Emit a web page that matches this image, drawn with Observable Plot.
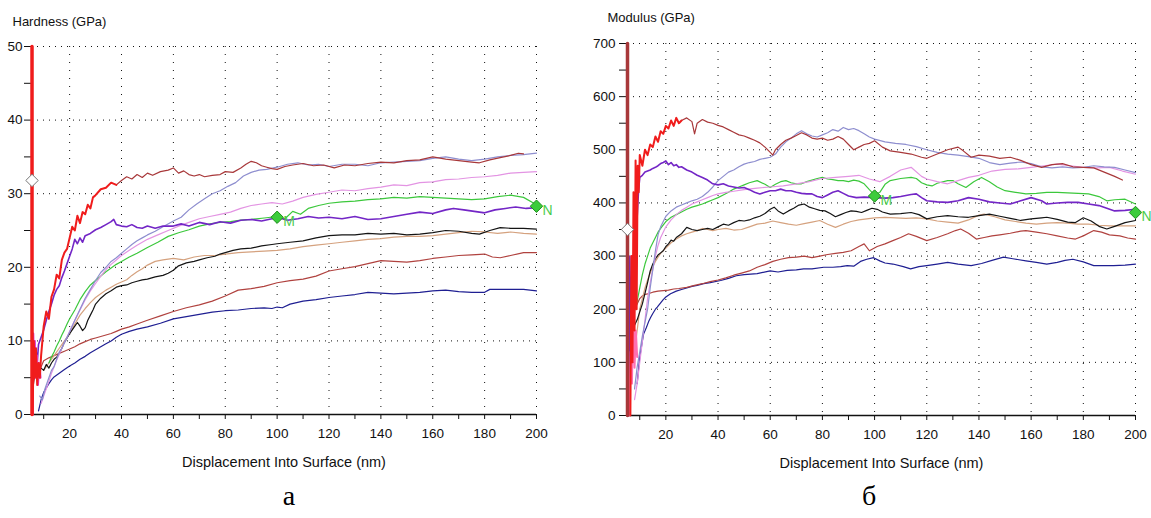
<!DOCTYPE html>
<html>
<head>
<meta charset="utf-8">
<script src="https://cdn.jsdelivr.net/npm/d3@7"></script>
<script src="https://cdn.jsdelivr.net/npm/@observablehq/plot@0.6"></script>
<style>
  html, body { margin: 0; padding: 0; background: #fff; }
  #wrap { position: relative; width: 1151px; height: 518px; background: #fff; overflow: hidden; }
  #left { position: absolute; left: 0; top: 0; }
  #right { position: absolute; left: 575px; top: 0; }
  #letters { position: absolute; left: 0; top: 0; pointer-events: none; }
</style>
</head>
<body>
<div id="wrap">
  <div id="left"></div>
  <div id="right"></div>
  <svg id="letters" width="1151" height="518">
    <text x="289" y="505" text-anchor="middle" font-family="Liberation Serif, Times New Roman, serif" font-size="28">а</text>
    <text x="869" y="505" text-anchor="middle" font-family="Liberation Serif, Times New Roman, serif" font-size="28">б</text>
  </svg>
</div>
<script>
// ---------------- shared axis data ----------------
const X_DOMAIN = [5.3, 200];
const X_TICKS = [10,20,30,40,50,60,70,80,90,100,110,120,130,140,150,160,170,180,190,200];
const X_GRID = [20,40,60,80,100,120,140,160,180,200];
const X_TITLE = "Displacement Into Surface (nm)";

// ---------------- panel a: Hardness ----------------
const H_DOMAIN = [0, 50];
const H_TICKS = [0,5,10,15,20,25,30,35,40,45,50];
const H_GRID = [10,20,30,40,50];
const H_TITLE = "Hardness (GPa)";

const H_spike = [[5.5,0],[5.5,50]];
const H_magenta = [[5.8,0],[6,11],[6.3,6],[6.6,10],[7,5],[7.4,8],[7.8,4],[8.3,7],[8.8,5]];
const H_redEarly = [[5.7,0],[6.2,10],[6.6,5],[7,9],[7.5,4],[8,7],[8.5,5],[9,8],[10,12],[11,14],[12,13],[13,16],[14,17],[15,19],[16,18.5],[17,21],[18,22],[19,22.5],[20,24],[21,25.5],[22,25],[23,27],[24,26],[25,27.5],[26,27.2],[27,28.5],[28,28],[29,29.5],[30,29.8],[32,30.6],[34,30.8],[36,31.5],[38,31.2]];
const H_redLate = [[38,31.2],[40,31.8],[42,32.3],[44,32],[46,32.6],[48,32.2],[50,32.8],[52,32.5],[55,33],[58,33.2],[60,33.5],[62,32.8],[64,33.1],[66,32.6],[68,32.4],[70,32.6],[72,32.3],[75,32.5],[78,32.6],[80,33],[83,32.9],[86,33.5],[88,34],[90,34.4],[92,34.2],[94,33.8],[96,33.6],[98,33.4],[100,33.3],[103,33.7],[106,33.9],[110,34.1],[114,33.8],[118,33.9],[122,33.5],[126,33.9],[130,33.8],[135,34.1],[140,34.3],[145,34.2],[150,34.5],[155,34.6],[160,35],[165,34.7],[170,34.5],[175,34.3],[178,34.2],[182,34.6],[186,34.9],[190,35.2],[193,35.5],[195,35.4]];
const H_slate = [[8.5,2.5],[9.5,2],[10.5,3.5],[12,5],[13,6],[14,6.5],[15,7.5],[16,8.5],[17,9],[18,9.8],[19,10.5],[20,11.2],[22,12.8],[24,14.3],[26,15.8],[28,17],[30,18.2],[32,19.3],[34,20],[36,20.8],[38,21.3],[40,21.9],[42,22.5],[44,23.1],[46,23.6],[48,24],[50,24.4],[53,24.9],[56,25.5],[60,26.3],[63,26.8],[66,27.8],[69,28.6],[72,29.3],[75,30],[78,30.4],[81,31],[84,31.5],[87,32.4],[90,32.9],[93,33.2],[96,33.3],[100,33.6],[104,34],[108,34.2],[112,33.9],[116,34],[120,33.7],[125,34],[130,34],[135,33.8],[140,34.2],[145,34.3],[150,34.4],[155,34.5],[160,34.8],[165,35],[170,34.7],[175,34.5],[180,34.7],[185,35],[190,35.2],[195,35.3],[200,35.5]];
const H_violet = [[9,1.5],[10,2.5],[11,3.5],[12,4.5],[13,5.6],[14,6.5],[15,7.4],[16,8.2],[17,9],[18,9.8],[19,10.5],[20,11.3],[22,12.8],[24,14.2],[26,15.6],[28,16.8],[30,17.8],[32,18.8],[34,19.7],[36,20.4],[38,21],[40,21.6],[43,22.3],[46,23],[50,23.8],[54,24.4],[58,25],[62,25.6],[66,26.1],[70,26.6],[74,26.9],[78,27.2],[82,27.5],[86,28],[90,28.4],[94,28.6],[98,28.8],[102,28.6],[106,29],[110,29.5],[115,29.9],[120,30.2],[125,30.5],[130,30.4],[135,30.7],[140,30.9],[145,31.2],[150,31.1],[155,31.5],[160,31.6],[165,31.9],[170,32],[175,32.2],[180,32.3],[185,32.5],[190,32.8],[195,32.9],[200,33]];
const H_green = [[12,7],[13,7.8],[14,8.5],[15,9.3],[16,10],[17,10.8],[18,11.5],[19,12.3],[20,13],[22,14.2],[24,15.6],[26,16.7],[28,17.6],[30,18.2],[32,18.8],[34,19.4],[36,19.9],[38,20.4],[40,20.8],[43,21.4],[46,21.9],[50,22.7],[54,23.4],[58,24.2],[62,24.7],[66,25.1],[70,25.6],[74,25.9],[78,26.1],[82,26.2],[86,26.4],[90,26.5],[95,26.7],[100,26.9],[103,26.6],[106,27.6],[109,27.2],[112,28],[116,28.4],[120,28.7],[125,28.9],[130,29],[135,29.2],[140,29.3],[145,29.5],[150,29.4],[155,29.6],[160,29.5],[165,29.4],[170,29.3],[175,29.2],[180,29.3],[185,29.6],[190,29.8],[195,29.5],[200,28.5]];
const H_purple = [[6,10],[6.5,6],[7,9],[7.5,7],[8,9.5],[9,10.5],[10,11.5],[11,12.8],[12,14],[13,15],[14,16.2],[15,17],[16,17.5],[17,18.6],[18,19.5],[19,20.5],[20,21.5],[21,22.5],[22,23.8],[23,23.2],[24,24],[25,23.4],[26,24.3],[28,24.6],[30,25.1],[32,25.4],[34,25.8],[36,26.2],[37,26.5],[38,25.8],[40,25.6],[42,25.5],[44,25.8],[46,25.4],[48,25.3],[50,25.6],[53,25.3],[56,25.6],[60,25.6],[63,25.9],[66,25.6],[70,26.1],[74,25.8],[78,26.2],[82,26],[86,26.4],[90,26.5],[94,26.3],[98,26.6],[100,26.8],[104,26.4],[108,26.6],[112,26.9],[116,26.7],[120,26.8],[125,26.6],[130,26.9],[135,26.5],[140,26.6],[145,26.9],[150,27.2],[155,27.5],[160,27.3],[165,27.8],[168,28],[172,27.8],[176,27.6],[180,27.4],[184,27.8],[188,28],[192,28.2],[196,28],[200,28.1]];
const H_black = [[6,5.5],[7,6.5],[8,5.8],[9,6.3],[10,6],[11,6.8],[12,6.3],[13,7],[14,7.5],[15,7.8],[16,8.3],[17,9],[18,9.8],[19,10.4],[20,11],[21,11.5],[22,12],[23,12.5],[24,12],[25,11.4],[26,11.8],[27,12.8],[28,13.5],[29,14.2],[30,15],[32,15.8],[34,16.4],[36,16.8],[38,17.3],[40,17.5],[42,17.6],[44,17.9],[46,18.1],[48,18.3],[50,18.4],[53,18.7],[56,18.9],[58,19.2],[60,19.6],[62,20.2],[65,20.6],[68,20.8],[70,21],[73,21.3],[76,21.5],[78,21.8],[80,22],[83,22.3],[86,22.5],[90,22.6],[94,22.9],[98,23.1],[100,23.2],[105,23.4],[110,23.6],[115,24],[120,24.3],[125,24.4],[130,24.4],[135,24.6],[140,24.5],[145,24.6],[150,24.4],[155,24.5],[160,24.7],[165,25],[170,24.9],[175,24.6],[178,24.5],[182,25],[186,25.4],[190,25.3],[195,25.3],[200,25.2]];
const H_tan = [[10,6],[12,7],[14,8],[16,9],[18,10],[20,11],[22,12.3],[24,13.5],[26,14.4],[28,15.2],[30,15.9],[32,16.4],[34,16.9],[36,17.3],[38,17.7],[40,18],[42,18.3],[44,18.9],[46,19.4],[48,19.8],[50,20.3],[53,20.8],[56,21],[60,21.2],[64,21],[68,21.4],[72,21.6],[76,21.6],[80,21.8],[85,22],[90,22.1],[95,22.2],[100,22.3],[105,22.5],[110,22.8],[115,23],[120,23.2],[125,23.4],[130,23.6],[135,23.8],[140,23.9],[145,24.1],[150,24.2],[155,24.2],[160,24.3],[165,24.5],[170,24.7],[175,24.9],[180,24.8],[185,24.6],[190,24.8],[195,24.6],[200,24.5]];
const H_brown = [[6,4],[7,6],[8,5.5],[9,6.5],[10,7.3],[12,7.7],[14,8],[16,8.3],[18,8.6],[20,8.9],[22,9.2],[24,9.6],[26,9.9],[28,10.2],[30,10.4],[32,10.6],[34,10.8],[36,11],[38,11.3],[40,11.6],[43,11.9],[46,12.3],[50,12.8],[55,13.4],[60,14],[65,14.5],[70,14.9],[75,15.4],[80,16.1],[85,16.9],[90,17.1],[95,17.4],[100,17.9],[105,18.2],[110,18.4],[115,18.8],[120,19.5],[125,19.8],[130,20.1],[135,20.5],[140,20.9],[145,20.8],[150,20.7],[155,20.9],[160,21.2],[165,21.4],[170,21.6],[175,21.7],[180,21.8],[183,21.4],[186,21.3],[190,21.6],[195,22],[200,22]];
const H_navy = [[8,0.5],[9,2],[10,3],[11,3.6],[12,4.2],[13,4.7],[14,5.1],[16,5.6],[18,6.1],[20,6.6],[22,7],[24,7.5],[26,7.9],[28,8.4],[30,8.8],[32,9.2],[34,9.6],[36,10],[38,10.5],[40,10.9],[43,11.3],[46,11.6],[50,11.9],[55,12.4],[60,13],[65,13.3],[70,13.6],[75,13.9],[80,14.1],[85,14.2],[90,14.4],[95,14.5],[98,14.4],[100,14.6],[102,14.5],[105,15],[110,15.4],[115,15.6],[120,15.9],[125,16.1],[130,16.3],[135,16.6],[140,16.5],[145,16.4],[150,16.5],[155,16.6],[160,16.8],[165,16.9],[170,16.7],[175,16.6],[180,16.6],[182,17],[186,17],[190,17],[195,17],[200,16.8]];

const H_markers = [{x: 100, y: 26.8, label: "M"}, {x: 200, y: 28.3, label: "N"}];
const H_start = [{x: 5.5, y: 31.8}];

// ---------------- panel б: Modulus ----------------
const M_DOMAIN = [0, 700];
const M_TICKS = [0,50,100,150,200,250,300,350,400,450,500,550,600,650,700];
const M_GRID = [100,200,300,400,500,600,700];
const M_TITLE = "Modulus (GPa)";

const M_spike = [[5.3,0],[5.3,700]];
const M_pink = [[6,0],[6.5,120],[7,60],[7.5,200],[8,90],[8.5,160],[9,110]];
const M_redEarly = [[6.4,0],[6.8,300],[7.2,100],[7.6,420],[8,160],[8.4,480],[8.8,200],[9.2,470],[9.6,420],[10,490],[11,470],[12,500],[13,490],[14,510],[15,505],[16,525],[17,515],[18,535],[19,530],[20,545],[21,540],[22,555],[23,545],[24,560],[25,550],[26,555]];
const M_redLate = [[26,555],[28,560],[30,553],[31,530],[32,550],[34,557],[36,552],[38,550],[40,546],[42,543],[44,538],[46,533],[48,528],[50,526],[52,522],[54,518],[56,513],[58,505],[60,495],[61,490],[62,500],[64,510],[66,518],[68,522],[70,527],[72,532],[74,528],[76,522],[78,520],[80,522],[82,518],[84,520],[86,525],[88,520],[90,510],[92,500],[94,505],[96,510],[98,512],[100,517],[103,505],[106,498],[110,495],[114,492],[118,486],[120,484],[124,492],[128,500],[132,505],[134,498],[137,486],[140,490],[144,488],[148,484],[152,486],[156,480],[160,472],[164,467],[168,472],[172,474],[176,468],[180,467],[184,466],[188,458],[192,450],[195,443]];
const M_slate = [[8,50],[9,91],[10,120],[11,150],[12,175],[13,200],[14,240],[15,275],[16,310],[17,340],[18,355],[20,375],[22,385],[24,392],[26,396],[28,400],[30,404],[32,407],[34,412],[36,420],[38,430],[40,442],[42,450],[44,458],[46,462],[48,468],[50,473],[52,476],[54,478],[56,482],[58,484],[60,486],[62,492],[64,505],[66,515],[68,522],[70,530],[72,536],[74,530],[76,526],[78,524],[80,528],[82,532],[84,538],[86,535],[88,542],[90,538],[92,540],[94,536],[96,530],[98,524],[100,520],[104,515],[108,512],[112,510],[116,506],[120,500],[124,495],[128,492],[132,490],[136,487],[140,484],[144,476],[148,472],[152,475],[156,477],[160,474],[164,468],[168,466],[172,468],[176,466],[180,467],[184,470],[188,468],[192,467],[196,462],[200,457]];
const M_violet = [[8,30],[9,60],[10,100],[11,140],[12,180],[13,220],[14,250],[15,275],[16,300],[17,320],[18,335],[20,355],[22,368],[24,378],[26,386],[28,392],[30,398],[32,402],[34,406],[36,410],[38,414],[40,417],[43,420],[46,422],[50,425],[55,428],[60,430],[65,432],[70,436],[75,440],[80,446],[85,448],[90,450],[94,452],[98,445],[102,440],[106,450],[110,462],[114,467],[118,450],[120,445],[124,440],[128,436],[132,442],[136,448],[140,452],[145,460],[150,463],[155,464],[160,467],[165,470],[170,473],[175,470],[180,467],[185,466],[190,467],[195,460],[200,454]];
const M_green = [[7.5,150],[8,197],[9,215],[10,240],[11,265],[12,285],[13,300],[14,315],[15,325],[16,335],[17,345],[18,352],[20,365],[22,373],[24,378],[26,383],[28,388],[30,392],[32,395],[34,398],[36,402],[38,406],[40,410],[42,415],[44,420],[46,426],[48,430],[50,434],[52,438],[55,442],[58,435],[60,429],[62,435],[64,440],[66,442],[68,438],[70,436],[72,436],[74,440],[76,443],[78,446],[80,448],[82,445],[84,444],[86,442],[88,442],[90,440],[92,443],[94,441],[96,436],[98,425],[100,415],[102,420],[104,435],[106,442],[110,446],[114,448],[116,446],[118,438],[120,434],[122,432],[124,437],[128,442],[130,442],[132,436],[135,429],[138,440],[141,448],[144,440],[147,430],[150,423],[154,420],[158,417],[162,418],[166,420],[170,420],[174,419],[178,418],[182,417],[186,412],[189,404],[192,406],[196,407],[200,398]];
const M_purple = [[5.8,0],[6.2,300],[6.6,150],[7,285],[7.5,250],[8,320],[8.5,300],[9,373],[9.5,420],[10,448],[11,452],[12,458],[13,460],[14,462],[15,465],[16,467],[17,470],[18,474],[19,476],[20,479],[21,472],[22,476],[23,470],[24,472],[25,467],[26,468],[28,462],[30,458],[32,452],[34,448],[36,443],[38,436],[40,434],[42,436],[44,432],[46,430],[48,428],[50,429],[52,425],[54,420],[56,417],[58,420],[60,423],[62,423],[64,426],[66,423],[68,423],[70,420],[72,418],[74,417],[76,417],[78,412],[80,410],[82,415],[84,420],[86,423],[88,418],[90,413],[93,410],[96,411],[100,410],[104,409],[107,410],[110,412],[114,416],[116,417],[118,410],[120,404],[124,402],[128,401],[132,404],[136,410],[140,407],[144,402],[148,400],[152,398],[156,404],[160,410],[164,404],[166,398],[170,400],[174,401],[178,401],[182,398],[186,395],[189,390],[192,385],[196,386],[200,388]];
const M_black = [[6,100],[6.5,160],[7,165],[7.5,158],[8,170],[9,180],[10,195],[11,210],[12,230],[13,250],[14,272],[15,285],[16,295],[17,302],[18,306],[19,310],[20,318],[21,323],[22,330],[23,328],[24,335],[26,342],[28,354],[30,350],[32,348],[34,350],[36,352],[38,350],[40,355],[42,360],[44,358],[46,363],[48,367],[50,366],[52,368],[54,372],[56,375],[58,380],[60,388],[61.5,392],[63,385],[65,379],[67,385],[69,390],[71,396],[73,398],[75,392],[77,389],[79,386],[81,385],[83,380],[85,374],[87,378],[89,382],[91,385],[93,384],[95,382],[97,386],[99,390],[101,388],[103,383],[106,379],[110,380],[114,382],[117,378],[120,370],[124,374],[128,376],[132,374],[136,373],[140,376],[144,379],[148,375],[152,371],[156,367],[160,370],[164,372],[166,373],[170,369],[174,364],[177,363],[180,372],[183,366],[186,356],[189,351],[192,356],[196,363],[200,367]];
const M_tan = [[8,120],[9,160],[10,200],[11,220],[12,240],[13,255],[14,268],[15,280],[16,290],[17,298],[18,305],[20,315],[22,325],[24,332],[26,338],[28,342],[30,345],[32,348],[34,352],[36,350],[38,348],[40,350],[43,352],[46,349],[49,350],[52,355],[55,360],[58,362],[61,366],[64,363],[67,360],[70,358],[73,361],[76,364],[79,367],[82,360],[85,354],[88,360],[91,365],[94,368],[97,370],[100,372],[104,373],[108,372],[112,371],[116,372],[120,370],[124,366],[128,364],[132,362],[136,368],[140,377],[142,379],[146,374],[150,368],[154,365],[158,362],[162,360],[166,362],[170,363],[174,362],[178,360],[182,360],[186,358],[190,357],[195,357],[200,357]];
const M_brown = [[6.5,150],[7,180],[8,200],[9,210],[10,220],[11,225],[12,228],[13,229],[15,232],[17,234],[19,235],[21,236],[23,238],[25,239],[28,241],[31,245],[34,248],[37,252],[40,255],[43,259],[46,264],[49,268],[52,272],[55,279],[58,284],[61,290],[64,294],[67,297],[70,298],[73,300],[76,297],[79,300],[82,303],[85,305],[88,307],[91,310],[94,318],[96,323],[98,310],[101,318],[104,323],[107,329],[110,335],[113,342],[116,337],[120,329],[124,335],[128,342],[131,348],[133,351],[136,343],[139,332],[142,335],[145,338],[148,340],[152,343],[156,347],[158,348],[162,345],[166,342],[170,338],[174,334],[177,332],[180,338],[184,348],[187,345],[190,340],[194,338],[197,334],[200,332]];
const M_navy = [[9,60],[10,110],[11,140],[11.5,154],[12.5,165],[13.5,178],[14.2,185],[15,192],[16,200],[16.7,204],[18,212],[19,218],[20,223],[21.8,229],[24,234],[26,237],[28,240],[30,243],[32,245],[34.5,248],[37,250],[41,254],[44,258],[47,263],[50,265],[55,267],[60,272],[63,270],[66.5,273],[70,274],[72.8,276],[76,276],[80.5,279],[84,279],[87,280],[89.5,282],[92,281],[94.6,290],[97,294],[99.6,297],[102,291],[104,287],[107,285],[111,280],[113.8,276],[117,280],[120,282],[124,285],[128,288],[132,285],[137,282],[141,286],[145,292],[149.4,298],[153,295],[158,291],[162,288],[166,285],[170,288],[173,292],[176,294],[180,289],[184,282],[188,282],[191.6,282],[196,283],[200,285]];

const M_markers = [{x: 100, y: 413, label: "M"}, {x: 200, y: 382, label: "N"}];
const M_start = [{x: 5.3, y: 350}];

// ---------------- styles (kept apart from data) ----------------
const COLORS = {
  navy: "#1f1f92", brown: "#b0423f", tan: "#d5a27f", black: "#141414",
  green: "#3cc83c", violet: "#e394e3", slate: "#8e8ecf", purple: "#7326c6",
  redEarly: "#f01c1c", redLate: "#a8383a", magenta: "#e040d8", pink: "#ff6fb0"
};

function toRows(pts) { return pts.map(([x, y]) => ({x, y})); }

function panel(o) {
  const lines = o.series.map(s => Plot.line(toRows(s.data), {
    x: "x", y: "y", stroke: s.color, strokeWidth: s.width || 1.2,
    strokeLinejoin: "round", strokeLinecap: "round"
  }));
  return Plot.plot({
    width: o.width, height: o.height,
    marginLeft: o.ml, marginRight: o.mr, marginTop: o.mt, marginBottom: o.mb,
    style: {fontFamily: "Liberation Sans, Arial, sans-serif", fontSize: "13.5px", background: "white", overflow: "visible", color: "#111"},
    x: {domain: X_DOMAIN, ticks: X_TICKS, tickFormat: d => d % 20 === 0 ? String(d) : "", tickSize: 5, tickPadding: 9, label: null},
    y: {domain: o.yDomain, ticks: o.yTicks, tickFormat: d => d % o.yLabelStep === 0 ? String(d) : "", tickSize: o.yTickSize, tickPadding: o.yTickPad, label: null},
    marks: [
      Plot.ruleY(o.yGrid, {stroke: "#111", strokeWidth: 1, strokeDasharray: "1,5"}),
      Plot.ruleX(X_GRID, {stroke: "#111", strokeWidth: 1, strokeDasharray: "1,7"}),
      Plot.ruleX([X_DOMAIN[0]], {stroke: "#111"}),
      Plot.ruleY([o.yDomain[0]], {stroke: "#111", strokeWidth: 1.3}),
      ...lines,
      Plot.dot(o.start, {x: "x", y: "y", symbol: "diamond2", r: 5.6, fill: "white", stroke: "#777", strokeWidth: 1}),
      Plot.dot(o.markers, {x: "x", y: "y", symbol: "diamond2", r: 5.6, fill: "#3ccc3c", stroke: "#1f8f1f", strokeWidth: 1}),
      Plot.text(o.markers, {x: "x", y: "y", text: "label", dx: 6, dy: 4, textAnchor: "start", fill: "#4ccc4c", fontSize: 14}),
      Plot.text([o.yTitle], {text: d => d, frameAnchor: "top-left", lineAnchor: "middle", dx: o.titleDx, dy: o.titleDy, textAnchor: "start", fontSize: 13}),
      Plot.text([X_TITLE], {text: d => d, frameAnchor: "bottom", lineAnchor: "middle", dy: 48, fontSize: 14.5})
    ]
  });
}

const leftChart = panel({
  width: 575, height: 480, ml: 31, mr: 39, mt: 46, mb: 66,
  yDomain: H_DOMAIN, yTicks: H_TICKS, yGrid: H_GRID, yLabelStep: 10, yTickSize: 7, yTickPad: 2,
  yTitle: H_TITLE, titleDx: -19, titleDy: -25,
  start: H_start, markers: H_markers,
  series: [
    {data: H_navy, color: COLORS.navy},
    {data: H_brown, color: COLORS.brown},
    {data: H_tan, color: COLORS.tan},
    {data: H_black, color: COLORS.black},
    {data: H_green, color: COLORS.green},
    {data: H_violet, color: COLORS.violet},
    {data: H_slate, color: COLORS.slate},
    {data: H_purple, color: COLORS.purple, width: 1.6},
    {data: H_magenta, color: COLORS.magenta, width: 2},
    {data: H_redLate, color: COLORS.redLate},
    {data: H_redEarly, color: COLORS.redEarly, width: 2},
    {data: H_spike, color: COLORS.redEarly, width: 3.5}
  ]
});

const rightChart = panel({
  width: 576, height: 480, ml: 52, mr: 16, mt: 43, mb: 65,
  yDomain: M_DOMAIN, yTicks: M_TICKS, yGrid: M_GRID, yLabelStep: 100, yTickSize: 8, yTickPad: 4,
  yTitle: M_TITLE, titleDx: -20, titleDy: -26,
  start: M_start, markers: M_markers,
  series: [
    {data: M_navy, color: COLORS.navy},
    {data: M_brown, color: COLORS.brown},
    {data: M_tan, color: COLORS.tan},
    {data: M_black, color: COLORS.black},
    {data: M_green, color: COLORS.green},
    {data: M_violet, color: COLORS.violet},
    {data: M_slate, color: COLORS.slate},
    {data: M_purple, color: COLORS.purple, width: 1.6},
    {data: M_pink, color: COLORS.pink, width: 2},
    {data: M_redLate, color: COLORS.redLate},
    {data: M_redEarly, color: COLORS.redEarly, width: 2},
    {data: M_spike, color: COLORS.redLate, width: 3.5}
  ]
});

document.getElementById("left").appendChild(leftChart);
document.getElementById("right").appendChild(rightChart);
</script>
</body>
</html>
